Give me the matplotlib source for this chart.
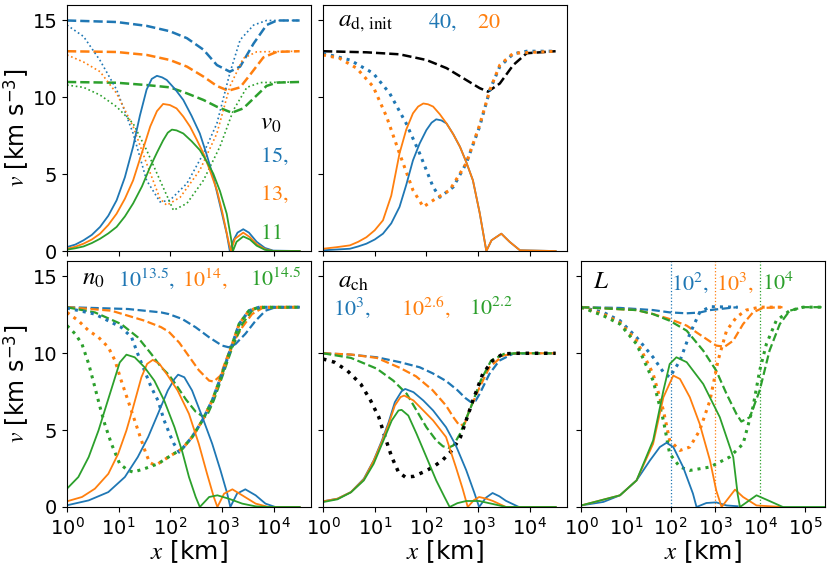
import numpy as np
import matplotlib
matplotlib.use('Agg')
import matplotlib.pyplot as plt

plt.rcParams['mathtext.fontset'] = 'stix'

C_B = '#1f77b4'
C_O = '#ff7f0e'
C_G = '#2ca02c'

# every curve: (log10 x [km], v [km s^-3])

# ---- panel v0 (top left)
v0_b_dash = ([0, 0.96, 1.54, 1.99, 2.32, 2.64, 2.90, 3.15, 3.35, 3.61, 3.86, 4.06, 4.5],
             [15, 14.9, 14.65, 14.3, 13.85, 13.1, 12.1, 11.67, 12.0, 13.5, 14.7, 15, 15])
v0_o_dash = ([0, 0.96, 1.54, 1.99, 2.32, 2.64, 2.90, 3.12, 3.35, 3.54, 3.80, 4.06, 4.5],
             [13, 12.95, 12.76, 12.43, 12.0, 11.35, 10.74, 10.43, 10.65, 11.46, 12.6, 12.96, 13])
v0_g_dash = ([0, 0.96, 1.54, 1.99, 2.32, 2.64, 2.90, 3.19, 3.41, 3.61, 3.86, 4.06, 4.5],
             [11, 10.95, 10.8, 10.65, 10.26, 9.83, 9.39, 9.0, 9.28, 9.93, 10.74, 10.96, 11])
v0_b_dot = ([0, 0.32, 0.64, 0.96, 1.28, 1.54, 1.80, 1.99, 2.32, 2.64, 2.90, 3.15, 3.35, 3.61, 3.86, 4.5],
            [14.7, 13.96, 12.4, 10.5, 7.65, 4.6, 3.2, 3.3, 4.4, 6.35, 8.3, 11.57, 13.74, 14.7, 15, 15])
v0_o_dot = ([0, 0.32, 0.64, 0.96, 1.28, 1.54, 1.80, 1.93, 2.19, 2.57, 2.90, 3.15, 3.41, 3.67, 4.5],
            [12.76, 12.3, 11.67, 10.26, 8.1, 5.7, 3.4, 2.98, 3.5, 5.26, 7.65, 10.7, 12.54, 12.96, 13])
v0_g_dot = ([0, 0.32, 0.64, 0.96, 1.28, 1.54, 1.80, 2.06, 2.32, 2.64, 2.96, 3.22, 3.48, 3.74, 4.5],
            [10.8, 10.65, 10.15, 9.39, 8.3, 6.57, 4.6, 2.65, 3.1, 4.6, 6.8, 9.17, 10.65, 10.96, 11])
v0_b_sol = ([0, 0.16, 0.32, 0.48, 0.64, 0.80, 0.96, 1.12, 1.28, 1.41, 1.54, 1.64, 1.74, 1.84, 1.93, 2.10, 2.25,
             2.41, 2.57, 2.70, 2.83, 2.96, 3.09, 3.15, 3.22, 3.30, 3.41, 3.52, 3.67, 3.83, 3.99, 4.5],
            [0.26, 0.42, 0.7, 1.05, 1.57, 2.3, 3.3, 4.8, 6.8, 8.8, 10.5, 11.2, 11.4, 11.3, 11.13, 10.5, 9.83,
             8.8, 7.65, 6.3, 4.83, 3.0, 1.13, 0, 0.7, 1.2, 1.42, 1.2, 0.6, 0.2, 0.03, 0])
v0_o_sol = ([0, 0.16, 0.32, 0.48, 0.64, 0.80, 0.96, 1.12, 1.28, 1.45, 1.61, 1.74, 1.86, 1.99, 2.12, 2.25, 2.38,
             2.51, 2.64, 2.77, 2.90, 3.00, 3.12, 3.17, 3.25, 3.41, 3.54, 3.67, 3.83, 3.99, 4.5],
            [0.15, 0.28, 0.48, 0.75, 1.13, 1.7, 2.43, 3.4, 4.6, 6.4, 8.1, 9.1, 9.57, 9.5, 9.28, 8.75, 8.1,
             7.25, 6.35, 5.2, 3.96, 2.6, 0.7, 0, 0.8, 1.2, 0.9, 0.45, 0.12, 0, 0])
v0_g_sol = ([0, 0.16, 0.32, 0.48, 0.64, 0.80, 0.96, 1.12, 1.28, 1.45, 1.61, 1.74, 1.86, 1.95, 2.03, 2.12, 2.25,
             2.41, 2.57, 2.70, 2.83, 2.96, 3.09, 3.17, 3.21, 3.28, 3.41, 3.54, 3.67, 3.83, 3.99, 4.5],
            [0.09, 0.18, 0.3, 0.52, 0.8, 1.15, 1.57, 2.25, 3.1, 4.2, 5.48, 6.4, 7.2, 7.7, 7.9, 7.85, 7.65,
             7.15, 6.57, 5.85, 5.04, 3.9, 2.43, 0.9, 0, 0.6, 0.95, 0.75, 0.35, 0.08, 0, 0])

# ---- panel a_d,init (top middle)
ad_k_dash = ([0, 0.84, 1.48, 2.0, 2.39, 2.77, 3.03, 3.19, 3.42, 3.68, 3.94, 4.5],
             [13, 12.93, 12.8, 12.43, 11.9, 11.13, 10.6, 10.37, 10.9, 12.1, 12.87, 13])
ad_b_dot = ([0, 0.52, 0.97, 1.29, 1.61, 1.87, 2.13, 2.26, 2.52, 2.77, 3.03, 3.23, 3.42, 3.68, 3.94, 4.5],
            [12.87, 12.43, 11.57, 10.26, 8.3, 6.35, 4.17, 3.5, 4.17, 5.7, 8.1, 10.5, 12.0, 12.83, 13, 13])
ad_o_dot = ([0, 0.32, 0.65, 0.97, 1.23, 1.48, 1.74, 1.94, 2.13, 2.45, 2.77, 3.03, 3.23, 3.42, 3.68, 4.5],
            [12.76, 12.54, 11.9, 10.7, 8.74, 6.35, 3.96, 2.87, 3.3, 3.96, 5.7, 8.2, 10.5, 12.1, 12.87, 13])
ad_b_sol = ([0, 0.26, 0.52, 0.68, 0.84, 1.0, 1.16, 1.32, 1.48, 1.61, 1.74, 1.87, 2.0, 2.10, 2.19, 2.29, 2.39,
             2.52, 2.65, 2.77, 2.90, 3.03, 3.16, 3.26, 3.45, 3.61, 3.81, 4.5],
            [0.05, 0.1, 0.15, 0.3, 0.48, 0.75, 1.13, 1.8, 2.87, 4.3, 5.9, 7.0, 7.87, 8.35, 8.57, 8.5, 8.3,
             7.6, 6.78, 5.8, 4.6, 2.5, 0, 0.7, 1.13, 0.6, 0.05, 0])
ad_o_sol = ([0, 0.26, 0.52, 0.68, 0.84, 1.0, 1.16, 1.32, 1.48, 1.61, 1.74, 1.84, 1.94, 2.03, 2.13, 2.26, 2.39,
             2.52, 2.65, 2.77, 2.90, 3.03, 3.16, 3.26, 3.45, 3.61, 3.81, 4.5],
            [0.15, 0.25, 0.37, 0.6, 0.9, 1.35, 2.0, 3.6, 6.35, 7.9, 8.96, 9.4, 9.6, 9.55, 9.4, 8.9, 8.3,
             7.6, 6.78, 5.8, 4.6, 2.5, 0, 0.7, 1.13, 0.6, 0.05, 0])

# ---- panel n0 (bottom left)
n0_tail_lx = [2.23, 2.42, 2.62, 2.81, 3.0, 3.2, 3.33, 3.52, 3.71, 4.5]
n0_tail_v = [3.79, 4.55, 5.63, 6.93, 8.66, 10.6, 11.9, 12.77, 12.99, 13]
n0_b_dash = ([0, 1.18, 1.82, 1.97, 2.23, 2.49, 2.75, 3.0, 3.13, 3.26, 3.45, 3.65, 3.84, 4.03, 4.5],
             [13, 12.88, 12.66, 12.55, 12.23, 11.69, 11.04, 10.5, 10.39, 10.6, 11.26, 12.12, 12.77, 12.99, 13])
n0_o_dash = ([0, 0.86, 1.50, 1.82, 1.97, 2.17, 2.36, 2.55, 2.75, 2.84, 2.97, 3.07, 3.2, 3.39, 3.58, 3.78, 4.5],
             [13, 12.77, 12.12, 11.7, 11.4, 10.7, 9.8, 8.9, 8.22, 8.16, 8.55, 9.52, 10.6, 11.69, 12.55, 12.94, 13])
n0_g_dash = ([0, 0.54, 1.05, 1.37, 1.63, 1.82, 1.97, 2.10, 2.30, 2.49, 2.65, 2.71, 2.84, 3.0, 3.2, 3.39, 3.58, 3.78, 4.5],
             [12.99, 12.66, 11.9, 11.04, 9.96, 9.1, 8.6, 8.0, 7.0, 6.2, 5.84, 5.95, 6.93, 8.44, 10.39, 11.9, 12.77, 12.99, 13])
n0_b_dot = ([0, 0.54, 1.05, 1.25, 1.37, 1.50, 1.63, 1.76, 1.88, 2.01, 2.07, 2.17] + n0_tail_lx,
            [12.94, 12.55, 11.69, 11.04, 9.96, 8.87, 7.79, 6.93, 5.63, 4.55, 4.11, 3.57] + n0_tail_v)
n0_o_dot = ([0, 0.22, 0.42, 0.61, 0.80, 0.93, 1.05, 1.18, 1.31, 1.44, 1.53, 1.60, 1.68, 1.76, 2.01] + n0_tail_lx,
            [12.66, 12.12, 11.47, 11.04, 10.39, 9.52, 8.22, 6.93, 5.63, 4.33, 3.46, 2.9, 2.75, 2.81, 3.35] + n0_tail_v)
n0_g_dot = ([0, 0.16, 0.29, 0.42, 0.54, 0.64, 0.73, 0.86, 1.02, 1.18, 1.28, 1.50, 1.76, 2.01] + n0_tail_lx,
            [11.8, 11.26, 10.6, 9.31, 7.79, 6.49, 5.41, 4.11, 2.81, 2.38, 2.27, 2.49, 2.81, 3.35] + n0_tail_v)
n0_b_sol = ([0, 0.42, 0.80, 1.12, 1.37, 1.57, 1.76, 1.95, 2.08, 2.15, 2.27, 2.42, 2.62, 2.81, 2.97, 3.10, 3.16,
             3.29, 3.45, 3.65, 3.84, 4.03, 4.5],
            [0.11, 0.43, 0.97, 1.95, 3.25, 4.55, 6.06, 7.58, 8.33, 8.61, 8.44, 7.58, 5.84, 4.11, 2.38, 0.87, 0,
             0.87, 1.15, 0.76, 0.22, 0, 0])
n0_o_sol = ([0, 0.29, 0.54, 0.80, 0.99, 1.15, 1.28, 1.44, 1.55, 1.66, 1.79, 1.95, 2.14, 2.36, 2.55, 2.71, 2.84,
             2.91, 3.04, 3.20, 3.39, 3.65, 3.9, 4.5],
            [0.37, 0.65, 1.19, 2.16, 3.46, 4.98, 6.49, 8.44, 9.31, 9.57, 9.31, 8.55, 7.58, 6.06, 4.11, 2.16, 0.65,
             0, 0.87, 1.15, 0.76, 0.22, 0, 0])
n0_g_sol = ([0, 0.22, 0.42, 0.61, 0.73, 0.89, 1.02, 1.15, 1.31, 1.50, 1.69, 1.88, 2.08, 2.23, 2.36, 2.49, 2.57,
             2.75, 2.91, 3.13, 3.39, 3.65, 3.9, 4.5],
            [1.19, 1.95, 3.25, 4.98, 6.28, 8.0, 9.4, 9.91, 9.74, 9.09, 8.22, 6.93, 5.19, 3.6, 1.95, 0.65, 0,
             0.65, 0.76, 0.54, 0.22, 0.04, 0, 0])

# ---- panel a_ch (bottom middle)
ach_b_dash = ([0, 0.54, 1.04, 1.49, 1.87, 2.12, 2.38, 2.60, 2.75, 2.85, 2.95, 3.03, 3.22, 3.41, 3.67, 4.0, 4.5],
              [10, 9.91, 9.74, 9.42, 9.09, 8.7, 8.2, 7.6, 7.1, 6.85, 6.9, 7.36, 8.66, 9.52, 9.96, 10, 10])
ach_o_dash = ([0, 0.54, 1.04, 1.49, 1.80, 2.12, 2.38, 2.53, 2.64, 2.74, 2.83, 3.03, 3.22, 3.48, 3.73, 4.5],
              [10, 9.92, 9.7, 9.05, 8.5, 7.6, 6.6, 5.8, 5.3, 5.4, 6.28, 7.79, 9.09, 9.85, 10, 10])
ach_g_dash = ([0, 0.54, 1.04, 1.36, 1.62, 1.81, 2.0, 2.19, 2.32, 2.42, 2.52, 2.65, 2.86, 3.05, 3.25, 3.5, 3.73, 4.5],
              [10, 9.7, 9.0, 8.22, 7.36, 6.28, 5.19, 4.33, 3.95, 3.85, 4.0, 4.76, 6.49, 8.22, 9.52, 9.96, 10, 10])
ach_k_dot = ([0, 0.22, 0.47, 0.73, 0.92, 1.08, 1.20, 1.33, 1.46, 1.59, 1.75, 1.94, 2.13, 2.32, 2.50, 2.66, 2.90,
              3.09, 3.28, 3.48, 3.73, 4.5],
             [9.63, 9.42, 8.87, 8.0, 6.93, 5.84, 4.55, 3.25, 2.27, 1.95, 1.99, 2.27, 2.6, 3.07, 3.7, 4.55, 6.93,
              8.66, 9.52, 9.96, 10, 10])
ach_b_sol = ([0, 0.28, 0.54, 0.79, 0.98, 1.14, 1.27, 1.39, 1.52, 1.59, 1.75, 1.94, 2.13, 2.38, 2.57, 2.77, 2.93,
              3.02, 3.15, 3.28, 3.41, 3.54, 3.79, 4.5],
             [0.37, 0.54, 0.97, 1.84, 3.03, 4.33, 5.52, 6.82, 7.53, 7.68, 7.47, 6.93, 6.28, 5.19, 4.0, 2.4, 0.9,
              0, 0.6, 0.91, 0.7, 0.4, 0, 0])
ach_o_sol = ([0, 0.28, 0.54, 0.79, 0.98, 1.14, 1.27, 1.39, 1.50, 1.57, 1.75, 1.94, 2.13, 2.38, 2.57, 2.70, 2.80,
              2.92, 3.02, 3.15, 3.28, 3.54, 4.5],
             [0.37, 0.54, 0.97, 1.8, 3.0, 4.25, 5.4, 6.6, 7.15, 7.25, 6.93, 6.28, 5.63, 4.55, 2.6, 1.2, 0,
              0.45, 0.65, 0.55, 0.4, 0, 0])
ach_g_sol = ([0, 0.28, 0.54, 0.79, 0.98, 1.17, 1.33, 1.46, 1.52, 1.65, 1.81, 2.0, 2.19, 2.35, 2.45, 2.6, 2.77,
              3.02, 3.28, 3.54, 4.5],
             [0.32, 0.5, 0.95, 1.73, 2.81, 4.33, 5.63, 6.28, 6.32, 5.95, 4.76, 3.25, 1.73, 0.65, 0, 0.25, 0.39,
              0.39, 0.2, 0, 0])

# ---- panel L (bottom right)
L_vals = [1e2, 1e3, 1e4]
L_b_dash = ([0, 0.87, 1.61, 1.98, 2.36, 2.65, 2.88, 3.32, 3.5],
            [13, 12.95, 12.81, 12.66, 12.6, 12.65, 12.81, 12.95, 13])
L_o_dash = ([0, 1.24, 1.61, 1.98, 2.36, 2.58, 2.80, 3.02, 3.21, 3.40, 3.62, 3.84, 4.06, 4.5],
            [13, 12.81, 12.55, 12.23, 11.8, 11.36, 10.93, 10.5, 10.43, 10.82, 11.9, 12.66, 12.95, 13])
L_g_dash = ([0, 1.24, 1.61, 1.98, 2.36, 2.73, 3.02, 3.25, 3.47, 3.58, 3.77, 3.99, 4.21, 4.44, 4.66, 4.96, 5.5],
            [13, 12.81, 12.55, 12.12, 11.47, 10.17, 8.87, 7.36, 6.06, 5.56, 5.84, 7.58, 10.17, 11.9, 12.77, 13, 13])
L_b_dot = ([0, 0.50, 0.87, 1.24, 1.61, 1.84, 1.98, 2.21, 2.43, 2.65, 2.88, 3.5],
           [13, 12.66, 12.12, 11.04, 9.74, 8.77, 8.44, 9.52, 11.26, 12.66, 13.03, 13])
L_o_dot = ([0, 0.50, 0.87, 1.24, 1.61, 1.84, 1.98, 2.21, 2.43, 2.65, 2.88, 3.06, 3.25, 3.47, 3.69, 3.99, 4.5],
           [13, 12.55, 12.0, 10.82, 8.66, 6.28, 4.33, 3.68, 3.9, 4.98, 6.93, 9.52, 11.47, 12.34, 12.81, 13, 13])
L_g_dot = ([0, 0.50, 0.87, 1.24, 1.61, 1.84, 1.98, 2.21, 2.43, 2.88, 3.32, 3.62, 3.84, 3.99, 4.14, 4.36, 4.66, 4.96, 5.5],
           [13, 12.44, 11.9, 10.6, 8.22, 5.63, 3.46, 2.6, 2.38, 2.6, 3.25, 4.11, 6.49, 8.87, 10.6, 12.12, 12.77, 13, 13])
L_b_sol = ([0, 0.50, 0.87, 1.24, 1.54, 1.76, 1.91, 2.06, 2.28, 2.50, 2.58, 2.80, 3.02, 3.25, 3.5],
           [0.1, 0.33, 0.76, 1.73, 3.03, 3.9, 4.18, 3.9, 2.6, 0.87, 0, 0.26, 0.3, 0.1, 0.05])
L_o_sol = ([0, 0.87, 1.24, 1.61, 1.84, 2.06, 2.21, 2.43, 2.65, 2.88, 3.02, 3.14, 3.44, 3.62, 3.92, 4.5],
           [0.1, 0.76, 1.73, 4.11, 7.14, 8.55, 8.33, 7.14, 5.41, 3.03, 1.08, 0, 1.13, 0.65, 0.1, 0])
L_g_sol = ([0, 0.87, 1.24, 1.61, 1.84, 1.98, 2.13, 2.36, 2.73, 3.10, 3.40, 3.50, 3.55, 3.92, 4.14, 4.51, 5.5],
           [0.1, 0.76, 1.73, 4.33, 7.58, 9.3, 9.74, 9.42, 8.0, 5.84, 3.25, 0.8, 0, 0.76, 0.48, 0, 0])


def draw(ax, curve, color, style, lw):
    lx, v = curve
    ax.plot(10 ** np.array(lx), v, color=color, ls=style, lw=lw)


fig = plt.figure(figsize=(8.31, 5.68), dpi=100)
W, H = 0.2936, 0.433
ax1 = fig.add_axes([0.0806, 0.558, W, H])
ax2 = fig.add_axes([0.3887, 0.558, W, H])
ax3 = fig.add_axes([0.0806, 0.1074, W, H])
ax4 = fig.add_axes([0.3887, 0.1074, W, H])
ax5 = fig.add_axes([0.6992, 0.1074, W, H])

# top left
for c, col in [(v0_b_dash, C_B), (v0_o_dash, C_O), (v0_g_dash, C_G)]:
    draw(ax1, c, col, '--', 1.8)
for c, col in [(v0_b_dot, C_B), (v0_o_dot, C_O), (v0_g_dot, C_G)]:
    draw(ax1, c, col, ':', 1.2)
for c, col in [(v0_b_sol, C_B), (v0_o_sol, C_O), (v0_g_sol, C_G)]:
    draw(ax1, c, col, '-', 1.3)

# top middle
draw(ax2, ad_k_dash, 'k', '--', 1.8)
draw(ax2, ad_b_dot, C_B, ':', 2.2)
draw(ax2, ad_o_dot, C_O, ':', 2.2)
draw(ax2, ad_b_sol, C_B, '-', 1.3)
draw(ax2, ad_o_sol, C_O, '-', 1.3)

# bottom left
for c, col in [(n0_b_dash, C_B), (n0_o_dash, C_O), (n0_g_dash, C_G)]:
    draw(ax3, c, col, '--', 1.6)
for c, col in [(n0_b_dot, C_B), (n0_o_dot, C_O), (n0_g_dot, C_G)]:
    draw(ax3, c, col, ':', 2.2)
for c, col in [(n0_b_sol, C_B), (n0_o_sol, C_O), (n0_g_sol, C_G)]:
    draw(ax3, c, col, '-', 1.3)

# bottom middle
for c, col in [(ach_b_dash, C_B), (ach_o_dash, C_O), (ach_g_dash, C_G)]:
    draw(ax4, c, col, '--', 1.6)
draw(ax4, ach_k_dot, 'k', ':', 2.5)
for c, col in [(ach_b_sol, C_B), (ach_o_sol, C_O), (ach_g_sol, C_G)]:
    draw(ax4, c, col, '-', 1.3)

# bottom right
for L, col in zip(L_vals, [C_B, C_O, C_G]):
    ax5.axvline(L, color=col, ls=':', lw=0.9)
for c, col in [(L_b_dash, C_B), (L_o_dash, C_O), (L_g_dash, C_G)]:
    draw(ax5, c, col, '--', 1.6)
for c, col in [(L_b_dot, C_B), (L_o_dot, C_O), (L_g_dot, C_G)]:
    draw(ax5, c, col, ':', 2.2)
for c, col in [(L_b_sol, C_B), (L_o_sol, C_O), (L_g_sol, C_G)]:
    draw(ax5, c, col, '-', 1.3)

for ax in [ax1, ax2, ax3, ax4, ax5]:
    ax.set_xscale('log')
    ax.set_ylim(0, 16)
    ax.set_yticks([0, 5, 10, 15])
    ax.tick_params(labelsize=14)
for ax in [ax1, ax2, ax3, ax4]:
    ax.set_xlim(1, 10 ** 4.72)
    ax.set_xticks([1, 10, 100, 1e3, 1e4])
ax5.set_xlim(1, 10 ** 5.45)
ax5.set_xticks([1, 10, 100, 1e3, 1e4, 1e5])
for ax in [ax1, ax2, ax3, ax4, ax5]:
    ax.minorticks_off()

for ax in [ax1, ax2]:
    ax.tick_params(labelbottom=False)
for ax in [ax2, ax4, ax5]:
    ax.tick_params(labelleft=False)
for ax in [ax1, ax3]:
    ax.set_ylabel(r'$v$ [km s$^{\mathregular{-3}}$]', fontsize=17, labelpad=0)
for ax in [ax3, ax4, ax5]:
    ax.set_xlabel(r'$x$ [km]', fontsize=18, labelpad=0)

fs = 16
ax1.text(0.79, 0.52, r'$v_0$', transform=ax1.transAxes, fontsize=18, ha='left', va='center')
ax1.text(0.79, 0.385, r'$15,$', transform=ax1.transAxes, fontsize=fs, color=C_B, ha='left', va='center')
ax1.text(0.79, 0.23, r'$13,$', transform=ax1.transAxes, fontsize=fs, color=C_O, ha='left', va='center')
ax1.text(0.79, 0.075, r'$11$', transform=ax1.transAxes, fontsize=fs, color=C_G, ha='left', va='center')

ax2.text(0.06, 0.93, r'$a_{\rm d,\,init}$', transform=ax2.transAxes, fontsize=18, ha='left', va='center')
ax2.text(0.43, 0.93, r'$\rm 40,$', transform=ax2.transAxes, fontsize=fs, color=C_B, ha='left', va='center')
ax2.text(0.63, 0.93, r'$\rm 20$', transform=ax2.transAxes, fontsize=fs, color=C_O, ha='left', va='center')

ax3.text(0.06, 0.93, r'$n_0$', transform=ax3.transAxes, fontsize=18, ha='left', va='center')
ax3.text(0.21, 0.93, r'$10^{13.5},$', transform=ax3.transAxes, fontsize=fs, color=C_B, ha='left', va='center')
ax3.text(0.47, 0.93, r'$10^{14},$', transform=ax3.transAxes, fontsize=fs, color=C_O, ha='left', va='center')
ax3.text(0.75, 0.93, r'$10^{14.5}$', transform=ax3.transAxes, fontsize=fs, color=C_G, ha='left', va='center')

ax4.text(0.06, 0.92, r'$a_{\rm ch}$', transform=ax4.transAxes, fontsize=18, ha='left', va='center')
ax4.text(0.04, 0.81, r'$10^{3},$', transform=ax4.transAxes, fontsize=fs, color=C_B, ha='left', va='center')
ax4.text(0.32, 0.81, r'$10^{2.6},$', transform=ax4.transAxes, fontsize=fs, color=C_O, ha='left', va='center')
ax4.text(0.60, 0.81, r'$10^{2.2}$', transform=ax4.transAxes, fontsize=fs, color=C_G, ha='left', va='center')

ax5.text(0.05, 0.92, r'$L$', transform=ax5.transAxes, fontsize=18, ha='left', va='center')
ax5.text(0.37, 0.91, r'$10^{2},$', transform=ax5.transAxes, fontsize=fs, color=C_B, ha='left', va='center')
ax5.text(0.555, 0.91, r'$10^{3},$', transform=ax5.transAxes, fontsize=fs, color=C_O, ha='left', va='center')
ax5.text(0.74, 0.91, r'$10^{4}$', transform=ax5.transAxes, fontsize=fs, color=C_G, ha='left', va='center')

fig.savefig('out.png', dpi=100)
